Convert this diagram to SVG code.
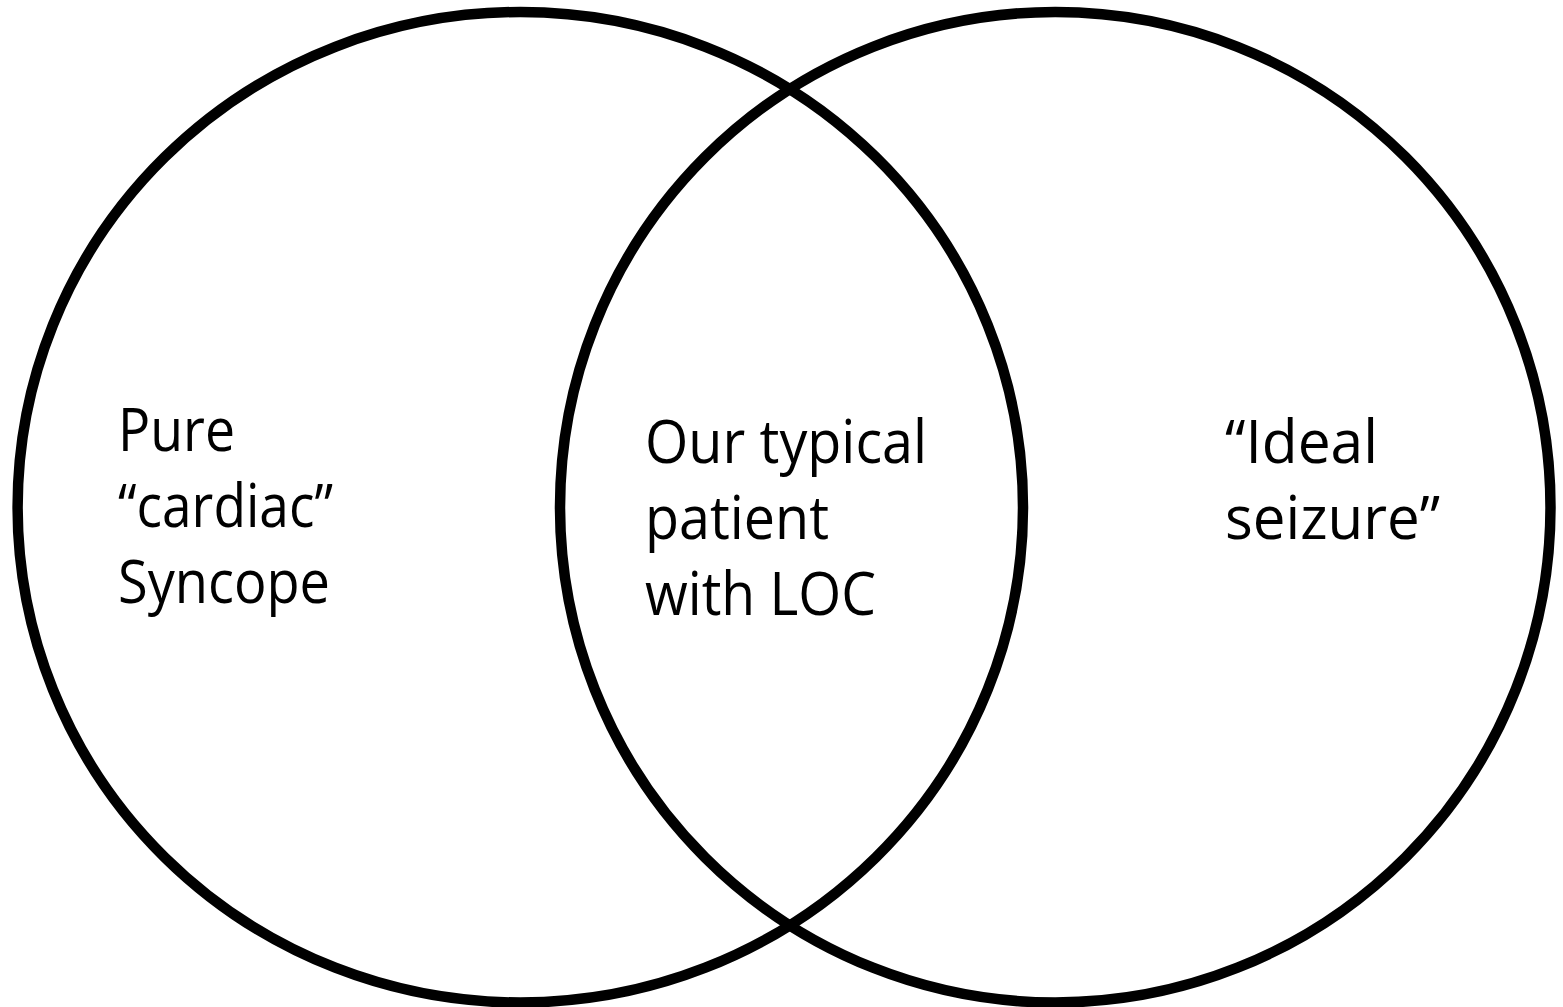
<svg xmlns="http://www.w3.org/2000/svg" width="1563" height="1007" viewBox="0 0 1563 1007">
<style>
.c{fill:none;stroke:#000;stroke-width:10.5}
.t{font-family:"Open Sans","Noto Sans",sans-serif;font-size:60px;fill:#000}
</style>
<rect width="1563" height="1007" fill="#fff"/>
<g id="set-cardiac">
<ellipse class="c" cx="520.3" cy="507.25" rx="502.7" ry="495.25"/>
<text class="t"><tspan x="118" y="451" textLength="117" lengthAdjust="spacingAndGlyphs">Pure</tspan><tspan x="118" y="527" textLength="215" lengthAdjust="spacingAndGlyphs">“cardiac”</tspan><tspan x="118" y="603" textLength="212" lengthAdjust="spacingAndGlyphs">Syncope</tspan></text>
</g>
<g id="set-seizure">
<ellipse class="c" cx="1055.25" cy="507.25" rx="495.25" ry="495.25"/>
<text class="t"><tspan x="1225" y="463" textLength="153" lengthAdjust="spacingAndGlyphs">“Ideal</tspan><tspan x="1225" y="539" textLength="215" lengthAdjust="spacingAndGlyphs">seizure”</tspan></text>
</g>
<g id="overlap">
<text class="t"><tspan x="645" y="463" textLength="282" lengthAdjust="spacingAndGlyphs">Our typical</tspan><tspan x="645" y="539" textLength="184" lengthAdjust="spacingAndGlyphs">patient</tspan><tspan x="645" y="615" textLength="231" lengthAdjust="spacingAndGlyphs">with LOC</tspan></text>
</g>
<g id="connectors"></g>
</svg>
